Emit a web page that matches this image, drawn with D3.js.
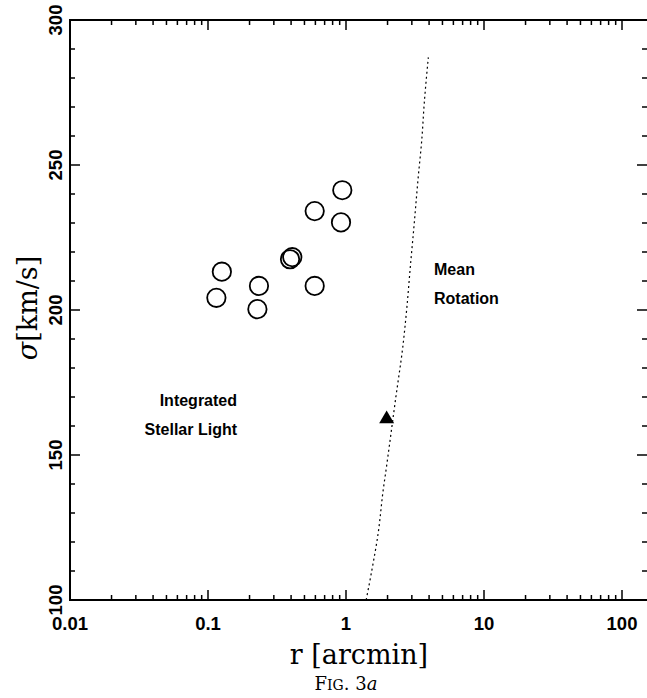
<!DOCTYPE html>
<html>
<head>
    <script src="https://d3js.org/d3.v7.min.js"></script>
    <style>
        body { margin: 0; background: white; }
        .frame { fill: none; stroke: black; stroke-width: 2px; }
        .ticklab { font-family: "Liberation Sans", Arial, sans-serif; font-weight: bold; font-size: 18.5px; }
        .note { font-family: "Liberation Sans", Arial, sans-serif; font-weight: bold; font-size: 16px; }
        .title { font-family: "DejaVu Serif", serif; }
    </style>
</head>
<body>
<script>
    // points from integrated stellar light (circles)
    const rStars = [0.115, 0.126, 0.228, 0.234, 0.393, 0.408, 0.593, 0.593, 0.92, 0.94];
    const sigStars = [204.2, 213.2, 200.3, 208.3, 217.5, 218.2, 208.3, 234.1, 230.2, 241.3];
    // mean rotation (triangle)
    const rRot = [1.97];
    const sigRot = [162.4];
    // dotted curve
    const rCurve = [1.40, 1.54, 1.71, 1.86, 1.95, 2.30, 2.58, 2.75, 2.94, 3.10, 3.34, 3.54, 3.69, 3.95];
    const sigCurve = [100, 110.3, 123, 137.9, 144.8, 170.1, 187.3, 200, 216.1, 228.2, 246, 258.6, 271.3, 287.1];
    // axis labels
    const xLabels = [0.01, 0.1, 1, 10, 100];
    const yLabels = [100, 150, 200, 250, 300];

    const W = 647, H = 698;
    const pLeft = 70, pRight = 647, pTop = 20, pBottom = 600;

    var svg = d3.select("body").append("svg")
        .attr("width", W).attr("height", H);

    // 0.01 -> 100 spans 4 decades of 138px
    var x = d3.scaleLog().domain([0.01, 100]).range([pLeft, pLeft + 4 * 138]);
    var y = d3.scaleLinear().domain([100, 300]).range([pBottom, pTop]);
    var xMax = x.invert(pRight);

    var xMinor = d3.scaleLog().domain([0.01, xMax]).ticks().filter(function (v) { return x(v) < pRight - 1; });
    var yMinor = d3.range(100, 301, 10);

    // ticks - bottom and top, pointing inward
    function tickX(g, yy, dir) {
        g.selectAll("line").data(xMinor).join("line")
            .attr("x1", function (d) { return x(d); }).attr("x2", function (d) { return x(d); })
            .attr("y1", yy)
            .attr("y2", function (d) {
                var major = Math.abs(Math.log10(d) - Math.round(Math.log10(d))) < 1e-6;
                return yy + dir * (major ? 10 : 5);
            })
            .attr("stroke", "black").attr("stroke-width", 1.5);
    }
    tickX(svg.append("g"), pBottom, -1);
    tickX(svg.append("g"), pTop, 1);

    function tickY(g, xx, dir) {
        g.selectAll("line").data(yMinor).join("line")
            .attr("y1", function (d) { return y(d); }).attr("y2", function (d) { return y(d); })
            .attr("x1", xx)
            .attr("x2", function (d) { return xx + dir * (d % 50 == 0 ? 10 : 5); })
            .attr("stroke", "black").attr("stroke-width", 1.5);
    }
    tickY(svg.append("g"), pLeft, 1);
    tickY(svg.append("g"), pRight, -1);

    // frame
    svg.append("path").attr("class", "frame")
        .attr("d", "M" + pRight + "," + pTop + "H" + pLeft + "V" + pBottom + "H" + pRight);

    // tick labels
    svg.append("g").selectAll("text").data(xLabels).join("text")
        .attr("class", "ticklab")
        .attr("x", function (d) { return x(d); })
        .attr("y", pBottom + 30)
        .attr("text-anchor", "middle")
        .text(function (d) { return d; });

    svg.append("g").selectAll("text").data(yLabels).join("text")
        .attr("class", "ticklab")
        .attr("transform", function (d) { return "translate(62," + y(d) + ") rotate(-90)"; })
        .attr("text-anchor", "middle")
        .text(function (d) { return d; });

    // dotted curve
    var line = d3.line()
        .x(function (d) { return x(d[0]); })
        .y(function (d) { return y(d[1]); })
        .curve(d3.curveMonotoneY);
    svg.append("path")
        .attr("d", line(d3.zip(rCurve, sigCurve)))
        .attr("fill", "none").attr("stroke", "black")
        .attr("stroke-width", 1.2).attr("stroke-dasharray", "2,3");

    // circles
    svg.append("g").selectAll("circle").data(d3.zip(rStars, sigStars)).join("circle")
        .attr("cx", function (d) { return x(d[0]); })
        .attr("cy", function (d) { return y(d[1]); })
        .attr("r", 9.2)
        .attr("fill", "none").attr("stroke", "black").attr("stroke-width", 1.8);

    // triangle
    svg.append("g").selectAll("path").data(d3.zip(rRot, sigRot)).join("path")
        .attr("d", d3.symbol(d3.symbolTriangle, 97))
        .attr("transform", function (d) { return "translate(" + x(d[0]) + "," + y(d[1]) + ")"; })
        .attr("fill", "black");

    // notes
    svg.append("text").attr("class", "note").attr("x", 237).attr("y", 406)
        .attr("text-anchor", "end").text("Integrated");
    svg.append("text").attr("class", "note").attr("x", 237).attr("y", 435)
        .attr("text-anchor", "end").text("Stellar Light");
    svg.append("text").attr("class", "note").attr("x", 434).attr("y", 275).text("Mean");
    svg.append("text").attr("class", "note").attr("x", 434).attr("y", 304).text("Rotation");

    // axis titles
    svg.append("text").attr("class", "title")
        .attr("x", 359).attr("y", 664).attr("text-anchor", "middle")
        .attr("font-size", 27).text("r [arcmin]");

    var yt = svg.append("text").attr("class", "title")
        .attr("transform", "translate(37,308) rotate(-90)")
        .attr("text-anchor", "middle").attr("font-size", 27);
    yt.append("tspan").attr("font-style", "italic").text("σ");
    yt.append("tspan").text("[km/s]");

    var cap = svg.append("text").attr("class", "title")
        .attr("x", 346).attr("y", 690).attr("text-anchor", "middle")
        .attr("font-family", "Liberation Serif, serif").attr("font-size", 18);
    cap.append("tspan").text("F");
    cap.append("tspan").attr("font-size", 14).text("IG");
    cap.append("tspan").text(". 3");
    cap.append("tspan").attr("font-style", "italic").text("a");
</script>
</body>
</html>
